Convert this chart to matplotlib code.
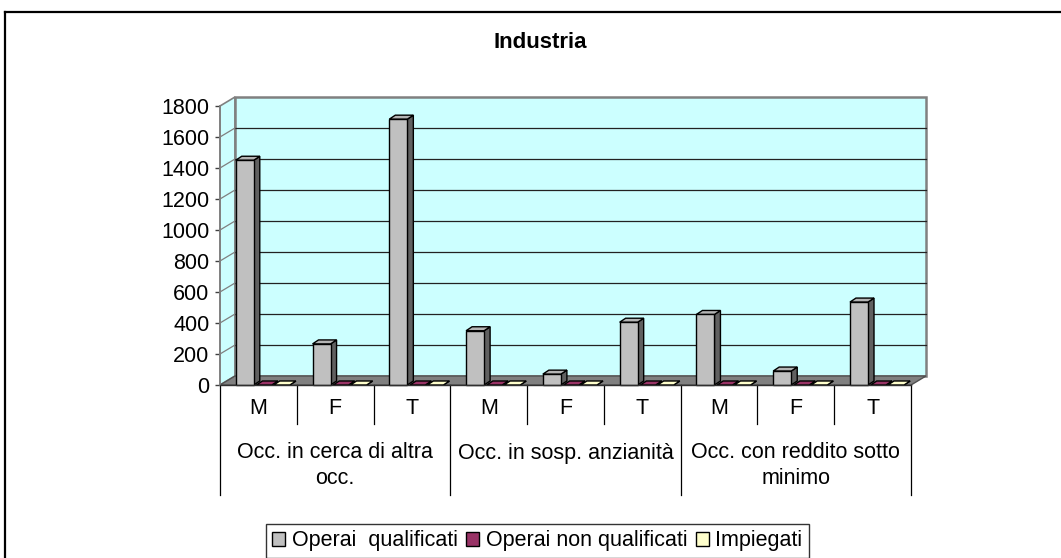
import numpy as np
import matplotlib.pyplot as plt
from matplotlib.patches import Polygon, Patch
from matplotlib.lines import Line2D
import matplotlib.transforms as mtransforms

plt.rcParams['font.family'] = ['Liberation Sans', 'DejaVu Sans']

# data
sub_labels = ['M', 'F', 'T', 'M', 'F', 'T', 'M', 'F', 'T']
group_labels = [['Occ. in cerca di altra', 'occ.'],
                ['Occ. in sosp. anzianità'],
                ['Occ. con reddito sotto', 'minimo']]
series_names = ['Operai  qualificati', 'Operai non qualificati', 'Impiegati']
operai_qualificati = [1450, 265, 1715, 350, 70, 405, 455, 90, 535]
operai_non_qualificati = [0, 0, 0, 0, 0, 0, 0, 0, 0]
impiegati = [0, 0, 0, 0, 0, 0, 0, 0, 0]
yticks = list(range(0, 1801, 200))

FS = 15.5

W, H = 1061, 558
fig = plt.figure(figsize=(W / 100, H / 100), dpi=100)
ax_l, ax_r, ax_t, ax_b = 220, 911, 106, 385
ax = fig.add_axes([ax_l / W, (H - ax_b) / H, (ax_r - ax_l) / W, (ax_b - ax_t) / H])
n = len(sub_labels)
ymax = 1800
ax.set_xlim(0, n)
ax.set_ylim(0, ymax)
ax.patch.set_visible(False)

# pixel -> data conversions
sx = (ax_r - ax_l) / n
sy = (ax_b - ax_t) / ymax
DX, DY = 15 / sx, 9 / sy        # wall depth
bdx, bdy = 6 / sx, 4 / sy       # bar depth

# walls
side = Polygon([(0, 0), (DX, DY), (DX, ymax + DY), (0, ymax)], closed=True,
               facecolor='#CCFFFF', edgecolor='#808080', lw=1.2, clip_on=False, zorder=1)
back = Polygon([(DX, DY), (n + DX, DY), (n + DX, ymax + DY), (DX, ymax + DY)], closed=True,
               facecolor='#CCFFFF', edgecolor='#808080', lw=1.8, clip_on=False, zorder=1)
ax.add_patch(side)
ax.add_patch(back)
for v in yticks[1:-1]:
    ax.plot([DX, n + DX], [v + DY, v + DY], color='#222222', lw=0.9, clip_on=False, zorder=2)
    ax.plot([0, DX], [v, v + DY], color='#808080', lw=0.9, clip_on=False, zorder=2)

floor = Polygon([(0, 0), (n, 0), (n + DX, DY), (DX, DY)], closed=True,
                facecolor='#808080', edgecolor='#505050', lw=1.0, clip_on=False, zorder=2)
ax.add_patch(floor)


def bar3d(x0, w, h, front, top, sidec):
    ax.add_patch(Polygon([(x0 + w, 0), (x0 + w + bdx, bdy), (x0 + w + bdx, h + bdy), (x0 + w, h)],
                         closed=True, facecolor=sidec, edgecolor='black', lw=1.0, clip_on=False, zorder=3))
    ax.add_patch(Polygon([(x0, h), (x0 + w, h), (x0 + w + bdx, h + bdy), (x0 + bdx, h + bdy)],
                         closed=True, facecolor=top, edgecolor='black', lw=1.0, clip_on=False, zorder=3))
    if h > 0:
        ax.add_patch(Polygon([(x0, 0), (x0 + w, 0), (x0 + w, h), (x0, h)],
                             closed=True, facecolor=front, edgecolor='black', lw=1.0, clip_on=False, zorder=3))


styles = [(0.205, 0.235, '#C0C0C0', '#B4B4B4', '#606060'),
          (0.475, 0.20, '#993366', '#993366', '#5C1F3D'),
          (0.70, 0.21, '#FFFFCC', '#FFFFCC', '#BFBF99')]
for i in range(n):
    for s, vals in enumerate([operai_qualificati, operai_non_qualificati, impiegati]):
        off, w, fc, tc, sc = styles[s]
        bar3d(i + off, w, vals[i], fc, tc, sc)

# y axis
for sp in ['top', 'right', 'bottom']:
    ax.spines[sp].set_visible(False)
ax.spines['left'].set_color('#808080')
ax.spines['left'].set_linewidth(1.3)
ax.set_yticks(yticks)
ax.tick_params(axis='y', direction='out', length=3.5, width=1, color='#404040', pad=4, labelsize=FS)
ax.set_xticks([])

# category table
ax.plot([0, n], [0, 0], color='#303030', lw=1.0, clip_on=False, zorder=4)
trans = mtransforms.blended_transform_factory(ax.transData, ax.transAxes)
ah = ax_b - ax_t
for k in range(n + 1):
    depth = 110 if k % 3 == 0 else 39
    ax.add_line(Line2D([k, k], [0, -depth / ah], transform=trans, color='black', lw=0.9, clip_on=False))
for i, lab in enumerate(sub_labels):
    ax.text(i + 0.5, -24 / ah, lab, transform=trans, ha='center', va='center', fontsize=FS)
for g, lines in enumerate(group_labels):
    for j, line in enumerate(lines):
        ax.text(g * 3 + 1.5, -(68 + 26 * j) / ah, line, transform=trans,
                ha='center', va='center', fontsize=FS)

fig.text(540 / W, 1 - 42 / H, 'Industria', ha='center', va='center', fontsize=16, fontweight='bold')

# outer frame
fig.add_artist(Line2D([5 / W, 1.0], [1 - 12 / H, 1 - 12 / H], transform=fig.transFigure, color='black', lw=1.6))
fig.add_artist(Line2D([5 / W, 5 / W], [0, 1 - 12 / H], transform=fig.transFigure, color='black', lw=1.6))

handles = [Patch(facecolor=styles[s][2], edgecolor='black', lw=1.0) for s in range(3)]
leg = fig.legend(handles, series_names, loc='upper left', bbox_to_anchor=(266 / W, 1 - 524 / H),
                 ncol=3, fontsize=FS, frameon=True, fancybox=False, edgecolor='black',
                 handlelength=0.6, handleheight=0.6, handletextpad=0.3, columnspacing=0.4,
                 borderpad=0.3, borderaxespad=0)
leg.get_frame().set_linewidth(1.0)

fig.savefig('out.png', dpi=100)
